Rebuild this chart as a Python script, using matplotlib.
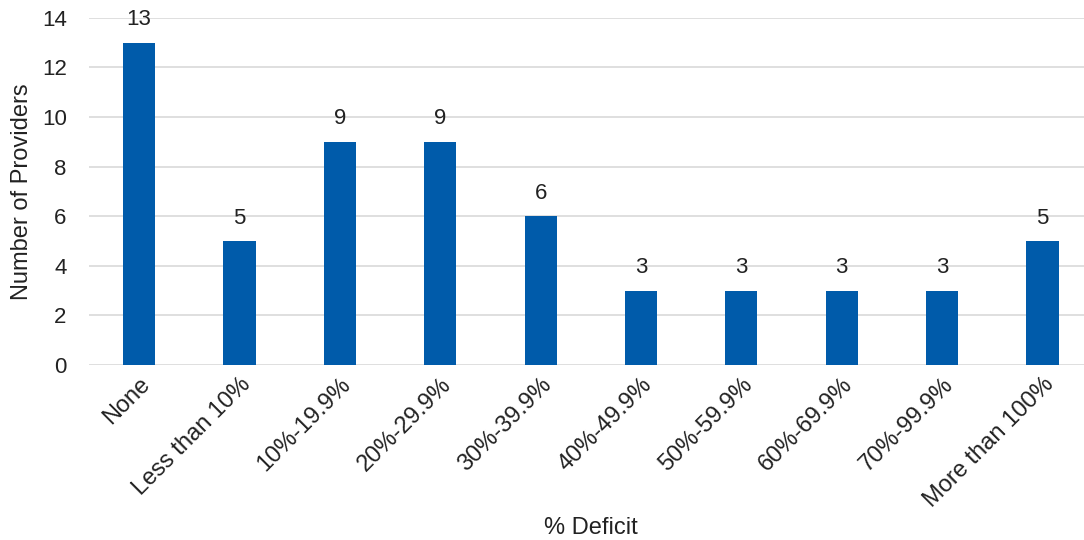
import matplotlib.pyplot as plt

plt.rcParams['font.family'] = ['Liberation Sans', 'DejaVu Sans']

categories = ["None", "Less than 10%", "10%-19.9%", "20%-29.9%", "30%-39.9%",
              "40%-49.9%", "50%-59.9%", "60%-69.9%", "70%-99.9%", "More than 100%"]
providers = [13, 5, 9, 9, 6, 3, 3, 3, 3, 5]

fig = plt.figure(figsize=(10.84, 5.4), dpi=100)
ax = fig.add_axes([0.082, 0.324, 0.926, 0.643])

x = range(len(categories))
bars = ax.bar(x, providers, width=0.32, color='#005BAA', zorder=3)
for b, v in zip(bars, providers):
    ax.text(b.get_x() + b.get_width() / 2, v + 0.5, str(v),
            ha='center', va='bottom', fontsize=16, color='#222222')

ax.set_xlim(-0.5, len(categories) - 0.5)
ax.set_ylim(0, 14)
ax.set_yticks(range(0, 15, 2))
ax.grid(axis='y', color='#d9d9d9', linewidth=1.2, zorder=0)
for s in ax.spines.values():
    s.set_visible(False)
ax.tick_params(length=0, labelsize=16, colors='#222222')
ax.tick_params(axis='y', pad=16)
ax.tick_params(axis='x', pad=6, labelsize=17)
ax.set_xticks(list(x))
ax.set_xticklabels(categories, rotation=45, ha='right', rotation_mode='anchor')
ax.set_xlabel("% Deficit", fontsize=17, color='#222222', labelpad=4)
ax.set_ylabel("Number of Providers", fontsize=17, color='#222222', labelpad=6)

fig.savefig("out.png", dpi=100)
